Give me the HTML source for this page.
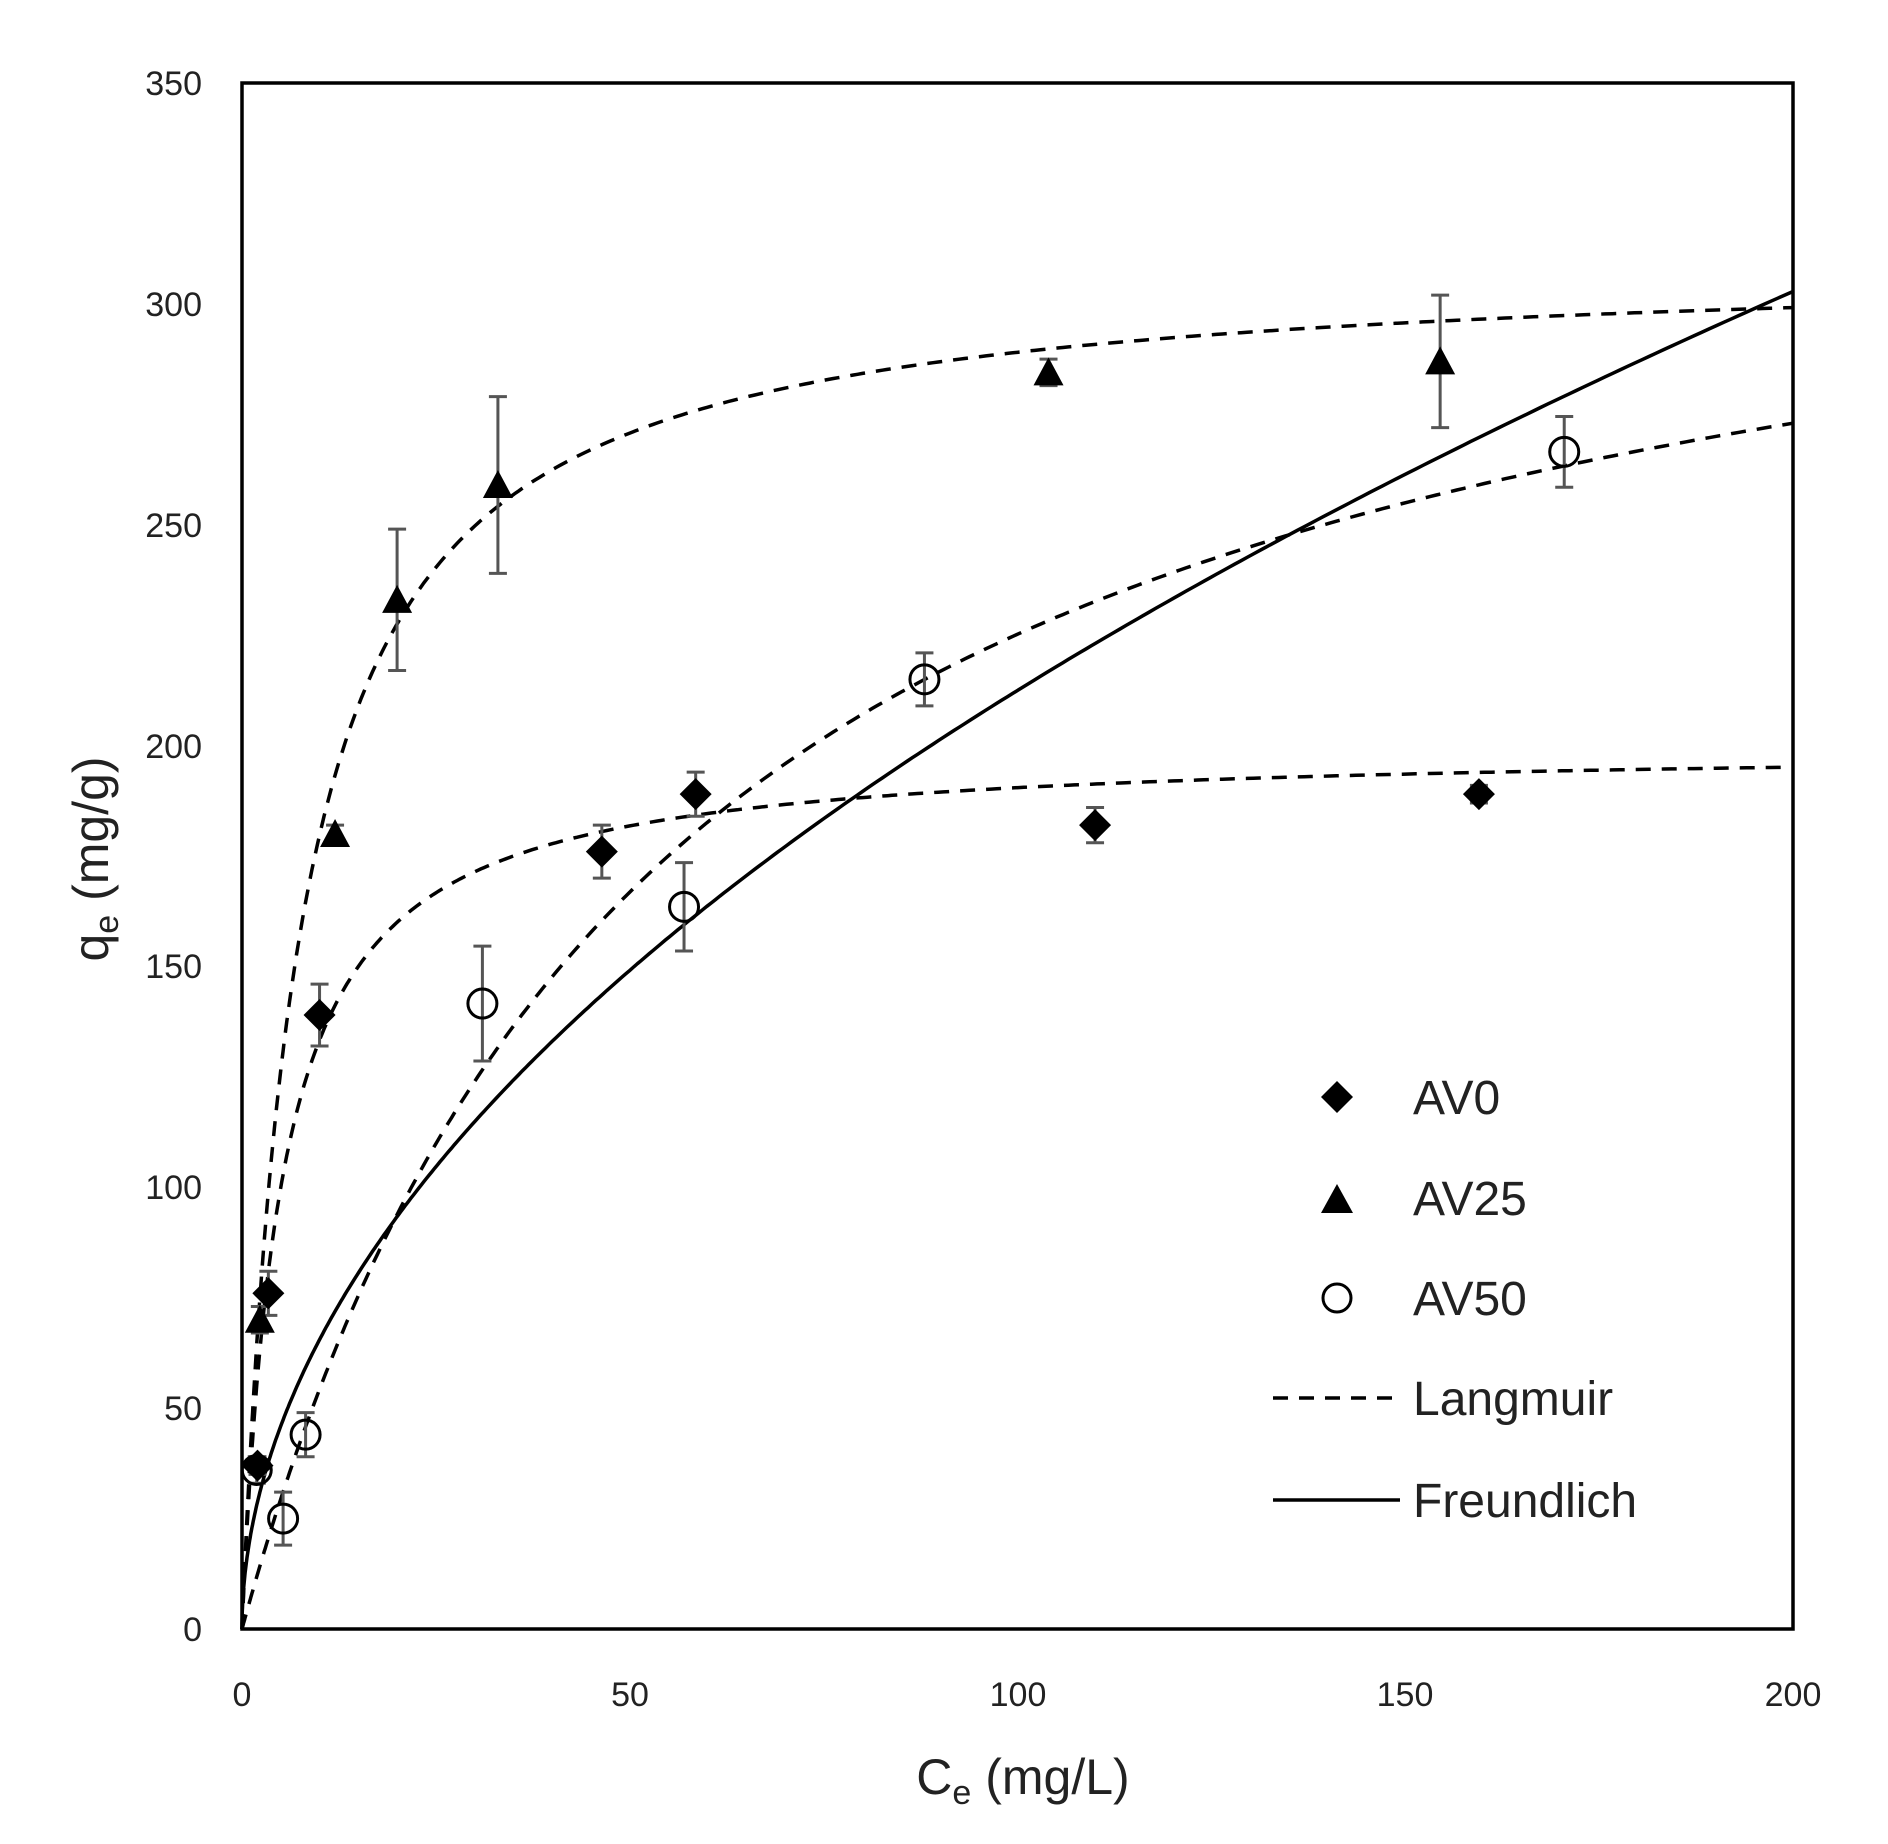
<!DOCTYPE html>
<html><head><meta charset="utf-8"><style>
html,body{margin:0;padding:0;background:#fff;}
svg{display:block;font-family:"Liberation Sans",sans-serif;}
</style></head><body>
<svg id="s" width="1888" height="1844" viewBox="0 0 1888 1844" xmlns="http://www.w3.org/2000/svg">
<rect width="1888" height="1844" fill="#fff"/>
<g id="g"></g>
<rect x="242" y="83" width="1551" height="1546" fill="none" stroke="#000" stroke-width="3.5"/>
<g font-size="34" fill="#222" text-anchor="end">
<text x="202" y="95">350</text><text x="202" y="316">300</text><text x="202" y="537">250</text>
<text x="202" y="758">200</text><text x="202" y="978">150</text><text x="202" y="1199">100</text>
<text x="202" y="1420">50</text><text x="202" y="1641">0</text>
</g>
<g font-size="34" fill="#222" text-anchor="middle">
<text x="242" y="1706">0</text><text x="630" y="1706">50</text><text x="1018" y="1706">100</text>
<text x="1405" y="1706">150</text><text x="1793" y="1706">200</text>
</g>
<text x="1023" y="1794" font-size="50" text-anchor="middle" fill="#222">C<tspan font-size="34" dy="10">e</tspan><tspan dy="-10"> (mg/L)</tspan></text>
<text transform="translate(108,859) rotate(-90)" font-size="50" text-anchor="middle" fill="#222">q<tspan font-size="34" dy="10">e</tspan><tspan dy="-10"> (mg/g)</tspan></text>
<g font-size="48" fill="#222">
<text x="1413" y="1114">AV0</text><text x="1413" y="1215">AV25</text><text x="1413" y="1315">AV50</text>
<text x="1413" y="1415">Langmuir</text><text x="1413" y="1517">Freundlich</text>
</g>
<path d="M1321 1097 L1337 1081 L1353 1097 L1337 1113Z" fill="#000"/>
<path d="M1321 1213 L1337 1184 L1353 1213Z" fill="#000"/>
<circle cx="1337" cy="1298" r="14" fill="none" stroke="#000" stroke-width="3"/>
<line x1="1273" y1="1398" x2="1392" y2="1398" stroke="#000" stroke-width="3.5" stroke-dasharray="15,11"/>
<line x1="1273" y1="1500" x2="1400" y2="1500" stroke="#000" stroke-width="3.5"/>
</svg>
<script>
var X=function(x){return 242+x*7.755},Y=function(y){return 1629-y*4.417};
var g=document.getElementById('g'),h='';
function curve(f,dash){var d='';for(var i=0;i<=400;i++){var c=i===0?0:Math.pow(i/400,2)*200;var y=Math.min(f(c),350);d+=(i?'L':'M')+X(c).toFixed(1)+' '+Y(y).toFixed(1);}
h+='<path d="'+d+'" fill="none" stroke="#000" stroke-width="3.5"'+(dash?' stroke-dasharray="15,11"':'')+'/>';}
curve(function(c){return 200*0.2*c/(1+0.2*c)},1);
curve(function(c){return 310*0.138*c/(1+0.138*c)},1);
curve(function(c){return 346.5*0.01857*c/(1+0.01857*c)},1);
curve(function(c){return 20.2*Math.pow(c,0.511)},0);
function eb(x,y,e){var px=X(x);h+='<path d="M'+px+' '+Y(y+e)+'V'+Y(y-e)+'M'+(px-9)+' '+Y(y+e)+'h18M'+(px-9)+' '+Y(y-e)+'h18" stroke="#555" stroke-width="3" fill="none"/>';}
var av0=[[2,37,2],[3.4,76,5],[10,139,7],[46.4,176,6],[58.5,189,5],[110,182,4],[159.5,189,2]];
var av25=[[2.3,70,3],[12,180,2],[20,233,16],[33,259,20],[104,284.5,3],[154.5,287,15]];
var av50=[[1.9,36,3],[5.3,25,6],[8.2,44,5],[31,141.6,13],[57,163.5,10],[88,215,6],[170.5,266.5,8]];
av0.concat(av25,av50).forEach(function(p){eb(p[0],p[1],p[2]);});
av0.forEach(function(p){var x=X(p[0]),y=Y(p[1]);h+='<path d="M'+(x-16)+' '+y+'L'+x+' '+(y-16)+'L'+(x+16)+' '+y+'L'+x+' '+(y+16)+'Z"/>';});
av25.forEach(function(p){var x=X(p[0]),y=Y(p[1]);h+='<path d="M'+(x-15)+' '+(y+13)+'L'+x+' '+(y-15)+'L'+(x+15)+' '+(y+13)+'Z"/>';});
av50.forEach(function(p){h+='<circle cx="'+X(p[0])+'" cy="'+Y(p[1])+'" r="14.5" fill="none" stroke="#000" stroke-width="3"/>';});
g.innerHTML=h;
</script>
</body></html>
